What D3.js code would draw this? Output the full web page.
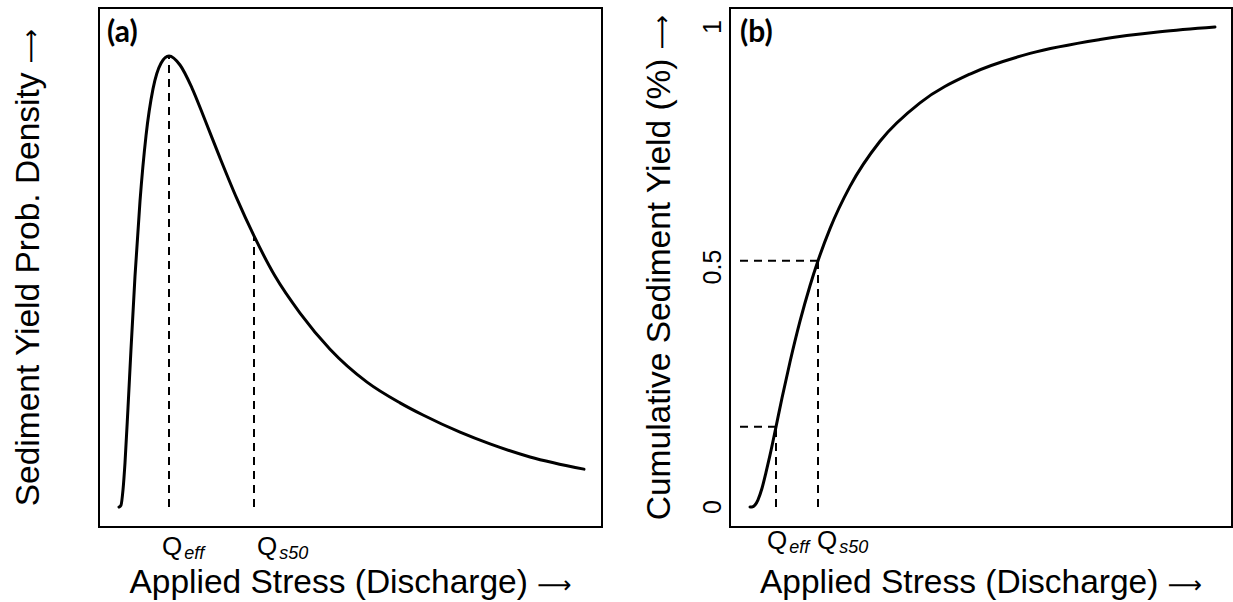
<!DOCTYPE html>
<html><head><meta charset="utf-8">
<script src="https://cdn.jsdelivr.net/npm/d3@7"></script>
<style>body{margin:0;background:#fff}svg{display:block}</style>
</head><body>
<svg id="c" width="1233" height="602"></svg>
<script>
// ---- Panel (a): sediment yield probability density
const densX = [0, 2, 4, 6, 9, 12, 16, 21, 27, 34, 42, 50, 61, 73, 86, 101, 118, 135, 156, 181, 211, 248, 281, 304, 341, 371, 411, 465];
const densY = [0, 0.004, 0.038, 0.098, 0.22, 0.35, 0.512, 0.678, 0.823, 0.927, 0.984, 1.0, 0.98, 0.929, 0.858, 0.774, 0.683, 0.601, 0.512, 0.430, 0.350, 0.277, 0.231, 0.204, 0.166, 0.140, 0.111, 0.084];
// ---- Panel (b): cumulative sediment yield
const cumX = [0, 2, 5, 8, 12, 16, 20, 26, 32, 40, 50, 60, 68, 80, 100, 130, 170, 220, 280, 350, 410, 465];
const cumY = [0, 0.0002, 0.004, 0.015, 0.039, 0.072, 0.108, 0.167, 0.227, 0.302, 0.387, 0.461, 0.513, 0.58, 0.668, 0.762, 0.842, 0.902, 0.945, 0.974, 0.99, 1.0];
// ---- Marker discharges
const qSubs = ["eff", "s50"];
const qA = [50, 135];
const qB = [26, 68];
const qLevelB = [0.167, 0.513];
// ---- Axis text
const yTicksB = [0, 0.5, 1];
const yTickLabelsB = ["0", "0.5", "1"];
const panelLabels = ["(a)", "(b)"];
const xTitle = "Applied Stress (Discharge)";
const yTitles = ["Sediment Yield Prob. Density", "Cumulative Sediment Yield (%)"];
const arrow = "\u27F6";

const svg = d3.select("#c");
const FONT = "'Liberation Sans', Arial, Helvetica, sans-serif";

const panels = [
  {x: d3.scaleLinear().domain([-20, 483]).range([99, 602]),
   y: d3.scaleLinear().domain([-0.0443, 1.1064]).range([527, 8]),
   xs: densX, ys: densY, q: qA, qDx: [-7, 3], qBase: 555, yTitleX: 39},
  {x: d3.scaleLinear().domain([-20, 482]).range([730, 1232]),
   y: d3.scaleLinear().domain([-0.04167, 1.0396]).range([527, 8]),
   xs: cumX, ys: cumY, q: qB, qDx: [-9, -1], qBase: 549, yTitleX: 670}
];

function interp(xs, ys, v) {
  for (let i = 1; i < xs.length; i++) {
    if (v <= xs[i]) { const t = (v - xs[i-1]) / (xs[i] - xs[i-1]); return ys[i-1] + t * (ys[i] - ys[i-1]); }
  }
  return ys[ys.length - 1];
}

function titleText(sel, label) {
  sel.append("tspan").text(label + " ");
  sel.append("tspan").attr("font-family", "'DejaVu Sans', sans-serif").attr("font-size", 24).text(arrow);
}

const dash = "8,6";

panels.forEach((p, pi) => {
  const g = svg.append("g");
  const [x0, x1] = p.x.range();
  const [y1, y0] = p.y.range();

  // dashed marker lines
  p.q.forEach((qv, i) => {
    const top = pi === 0 ? interp(p.xs, p.ys, qv) : qLevelB[i];
    g.append("line")
      .attr("x1", p.x(qv)).attr("x2", p.x(qv))
      .attr("y1", p.y(0)).attr("y2", p.y(top))
      .attr("stroke", "#000").attr("stroke-width", 2).attr("stroke-dasharray", dash);
    if (pi === 1) {
      g.append("line")
        .attr("x1", p.x(-10)).attr("x2", p.x(qv))
        .attr("y1", p.y(qLevelB[i])).attr("y2", p.y(qLevelB[i]))
        .attr("stroke", "#000").attr("stroke-width", 2).attr("stroke-dasharray", dash);
    }
    const t = g.append("text").attr("x", p.x(qv) + p.qDx[i]).attr("y", p.qBase)
      .attr("font-family", FONT).attr("font-size", 26).attr("fill", "#000");
    t.append("tspan").text("Q");
    t.append("tspan").attr("dx", 2).attr("dy", 4).attr("font-size", 18).attr("font-style", "italic").text(qSubs[i]);
  });

  // curve
  const line = d3.line().x(d => p.x(d[0])).y(d => p.y(d[1])).curve(d3.curveMonotoneX);
  g.append("path").datum(d3.zip(p.xs, p.ys)).attr("d", line)
    .attr("fill", "none").attr("stroke", "#000").attr("stroke-width", 3)
    .attr("stroke-linejoin", "round").attr("stroke-linecap", "round");

  // box
  g.append("rect").attr("x", x0).attr("y", y0).attr("width", x1 - x0).attr("height", y1 - y0)
    .attr("fill", "none").attr("stroke", "#000").attr("stroke-width", 2);

  // panel label
  g.append("text").attr("x", x0 + 8 + pi * 2).attr("y", 42)
    .attr("font-family", "Lato, 'Open Sans', sans-serif").attr("font-weight", 700)
    .attr("font-size", 30).attr("fill", "#000").text(panelLabels[pi]);

  // x title
  titleText(g.append("text").attr("x", (x0 + x1) / 2).attr("y", 593).attr("text-anchor", "middle")
    .attr("font-family", FONT).attr("font-size", 33.5).attr("fill", "#000"), xTitle);

  // y title
  titleText(g.append("text").attr("transform", `translate(${p.yTitleX},${(y0 + y1) / 2}) rotate(-90)`)
    .attr("text-anchor", "middle").attr("font-family", FONT).attr("font-size", 33.5)
    .attr("fill", "#000"), yTitles[pi]);

  // y ticks (panel b only)
  if (pi === 1) {
    yTicksB.forEach((tv, i) => {
      g.append("text").attr("transform", `translate(721,${p.y(tv)}) rotate(-90)`)
        .attr("text-anchor", "middle").attr("font-family", FONT).attr("font-size", 25)
        .attr("fill", "#000").text(yTickLabelsB[i]);
    });
  }
});
</script>
</body></html>
